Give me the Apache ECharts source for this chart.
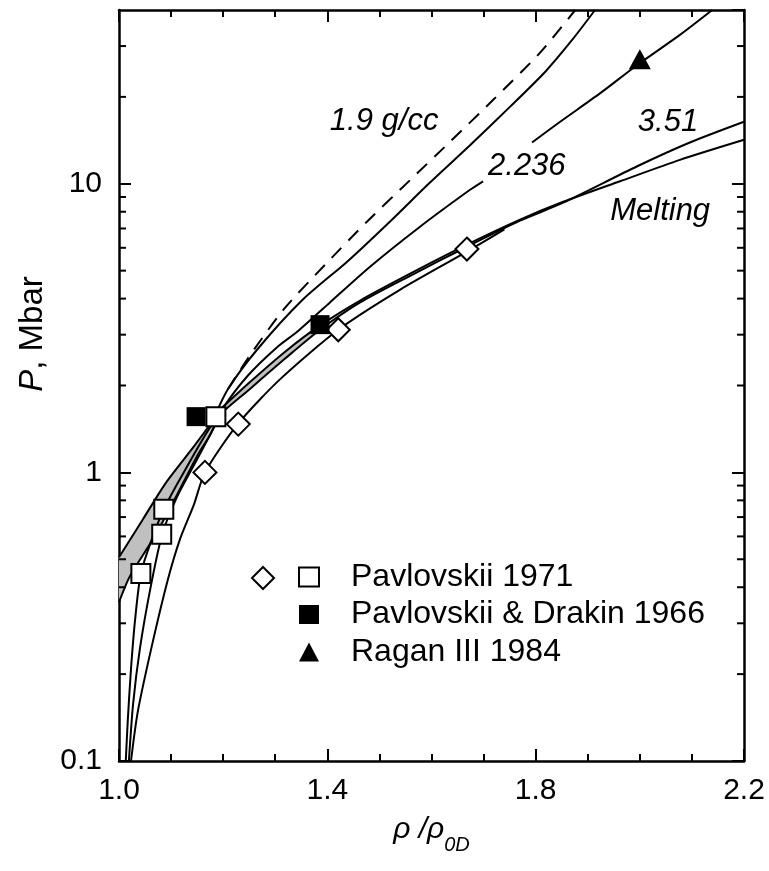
<!DOCTYPE html>
<html><head><meta charset="utf-8">
<script src="https://cdn.jsdelivr.net/npm/echarts@6/dist/echarts.min.js"></script>
<style>html,body{margin:0;padding:0;background:#fff}#c{width:769px;height:871px}</style>
</head><body><div id="c"></div>
<script>
const FONT = '"Liberation Sans", Arial, Helvetica, sans-serif';

// axes
const xMin = 1.0, xMax = 2.2, xStep = 0.4;
const xTickLabels = ['1.0', '1.4', '1.8', '2.2'];
const yMin = 0.1, yMax = 40;
const yTickLabels = ['0.1', '1', '10'];
const yMinorTicks = [0.2, 0.3, 0.4, 0.5, 0.6, 0.7, 0.8, 0.9, 2, 3, 4, 5, 6, 7, 8, 9, 20, 30];

// curves [rho/rho0D, P (Mbar)]
const curve19 = [[1.000,0.508],[1.046,0.688],[1.088,0.909],[1.136,1.18],[1.175,1.47],[1.209,1.94],[1.265,2.66],[1.353,3.97],[1.438,5.37],[1.520,7.39],[1.597,10.1],[1.674,13.6],[1.751,18.5],[1.818,24.4],[1.870,31.5],[1.914,40]];
const curve19Dashed = [[1.209,1.94],[1.255,2.60],[1.319,3.72],[1.396,5.25],[1.476,7.39],[1.559,10.3],[1.636,14.0],[1.718,19.5],[1.808,28.4],[1.876,40]];
const curve2236Low = [[1.000,0.355],[1.021,0.437],[1.065,0.586],[1.102,0.775],[1.150,1.14],[1.175,1.35],[1.198,1.65],[1.248,2.17],[1.303,2.71],[1.342,3.07],[1.405,3.88],[1.482,5.16],[1.578,7.10],[1.674,9.53],[1.699,10.2]];
const curve2236High = [[1.793,13.9],[1.847,16.4],[1.924,20.6],[1.995,25.8],[2.077,32.8],[2.139,40]];
const curve351 = [[1.013,0.1],[1.017,0.140],[1.023,0.208],[1.031,0.310],[1.042,0.447],[1.063,0.586],[1.086,0.745],[1.127,1.02],[1.186,1.53],[1.252,1.95],[1.319,2.48],[1.386,3.12],[1.463,3.88],[1.559,4.80],[1.668,6.05],[1.770,7.45],[1.853,8.60],[1.995,11.5],[2.096,13.9],[2.200,16.4]];
const curve351b = [[1.019,0.1],[1.027,0.157],[1.040,0.244],[1.060,0.394],[1.083,0.610],[1.111,0.819],[1.150,1.11],[1.186,1.47]];
const curveDiamondData = [[1.023,0.1],[1.036,0.148],[1.063,0.250],[1.094,0.426],[1.117,0.586],[1.144,0.775],[1.165,1.0],[1.228,1.47],[1.309,2.10],[1.421,3.12],[1.540,4.30],[1.668,5.82],[1.740,6.95]];
const curveMelting = [[1.186,1.60],[1.252,2.06],[1.319,2.62],[1.386,3.23],[1.463,3.94],[1.559,4.88],[1.668,6.15],[1.770,7.51],[1.853,8.66],[1.962,10.2],[2.077,12.1],[2.200,14.2]];

// experimental points
const pavlovskii1971Squares = [[1.042,0.446],[1.082,0.610],[1.086,0.745],[1.186,1.56]];
const pavlovskii1971Diamonds = [[1.165,1.0],[1.229,1.47],[1.421,3.12],[1.668,5.94]];
const pavlovskiiDrakin1966 = [[1.148,1.56],[1.386,3.25]];
const ragan1984 = [[2.0,27]];

// curve annotations
const labelTexts = ['1.9 g/cc', '2.236', '3.51', 'Melting'];
const labelX = [1.509, 1.783, 2.054, 2.039];
const labelY = [16.4, 11.5, 16.3, 8.0];

// gray band derived from the curves
const bandUpper = curve19.filter(p => p[0] <= 1.175).concat(curveMelting.filter(p => p[0] <= 1.386));
const bandLower = curve2236Low.filter(p => p[0] <= 1.175).concat(curve351.filter(p => p[0] >= 1.186 && p[0] <= 1.386));

const BLACK = '#000';
function lineSeries(name, data, extra) {
  return Object.assign({
    type: 'line', name: name, data: data, symbol: 'none', showSymbol: false,
    smooth: 0.25, silent: true, z: 3,
    lineStyle: { color: BLACK, width: 2 }
  }, extra || {});
}

const axisLineStyle = { onZero: false, lineStyle: { color: BLACK, width: 2.5 } };
const tickStyle = { inside: true, length: 12, lineStyle: { color: BLACK, width: 2 } };

const chart = echarts.init(document.getElementById('c'), null, { renderer: 'canvas' });
chart.setOption({
  animation: false,
  backgroundColor: '#fff',
  textStyle: { fontFamily: FONT, color: BLACK },
  grid: { left: 119, right: 25, top: 10, bottom: 110, containLabel: false, outerBoundsMode: 'none' },
  legend: [
    {
      data: ['Pavlovskii 1971', 'Pavlovskii & Drakin 1966', 'Ragan III 1984'],
      orient: 'vertical', left: 298, top: 561, itemWidth: 20, itemHeight: 19, itemGap: 5.5,
      padding: 0, selectedMode: false,
      textStyle: { fontSize: 32, lineHeight: 32, fontFamily: FONT, color: BLACK, padding: [0, 0, 0, 27] }
    },
    {
      data: ['Pavlovskii 1971 diamonds'], left: 251, top: 566, itemWidth: 22, itemHeight: 22,
      padding: 0, selectedMode: false, formatter: function () { return ''; }
    }
  ],
  xAxis: [
    {
      type: 'value', min: xMin, max: xMax, interval: xStep, position: 'bottom',
      axisLine: axisLineStyle, axisTick: tickStyle,
      minorTick: { show: true, splitNumber: 4, length: 7, lineStyle: { color: BLACK, width: 2 } },
      splitLine: { show: false }, minorSplitLine: { show: false },
      axisLabel: {
        fontSize: 30, color: BLACK, fontFamily: FONT, margin: 15,
        formatter: function (v) { return xTickLabels[Math.round((v - xMin) / xStep)]; }
      },
      name: '{i|ρ /ρ}{sub|0D}', nameLocation: 'middle', nameGap: 54, nameMoveOverlap: false,
      nameTextStyle: {
        rich: {
          i: { fontSize: 30, fontStyle: 'italic', fontFamily: FONT, color: BLACK, lineHeight: 30 },
          sub: { fontSize: 20, fontStyle: 'italic', fontFamily: FONT, color: BLACK, lineHeight: 20, padding: [30, 0, 0, 0] }
        }
      }
    },
    {
      type: 'value', min: xMin, max: xMax, interval: xStep, position: 'top',
      axisLine: axisLineStyle, axisTick: tickStyle,
      minorTick: { show: true, splitNumber: 4, length: 7, lineStyle: { color: BLACK, width: 2 } },
      splitLine: { show: false }, axisLabel: { show: false }
    }
  ],
  yAxis: [
    {
      type: 'log', logBase: 10, min: yMin, max: yMax, interval: 1, position: 'left',
      axisLine: axisLineStyle, axisTick: tickStyle, minorTick: { show: false },
      splitLine: { show: false },
      axisLabel: {
        fontSize: 30, color: BLACK, fontFamily: FONT, margin: 17, showMaxLabel: false,
        formatter: function (v) { const e = Math.round(Math.log10(v)) + 1; return yTickLabels[e] || ''; }
      },
      name: '{i|P}{n|, Mbar}', nameLocation: 'middle', nameGap: 70, nameRotate: 90, nameMoveOverlap: false,
      nameTextStyle: {
        padding: [0, 0, 0, 103],
        rich: {
          i: { fontSize: 33, fontStyle: 'italic', fontFamily: FONT, color: BLACK },
          n: { fontSize: 33, fontFamily: FONT, color: BLACK }
        }
      }
    },
    {
      type: 'log', logBase: 10, min: yMin, max: yMax, interval: 1, position: 'right',
      axisLine: axisLineStyle, axisTick: tickStyle, minorTick: { show: false },
      splitLine: { show: false }, axisLabel: { show: false }
    }
  ],
  series: [
    {
      type: 'custom', name: 'band', silent: true, z: 1, data: [[1.0, 1.0]],
      renderItem: function (params, api) {
        const pts = bandUpper.map(p => api.coord(p)).concat(bandLower.slice().reverse().map(p => api.coord(p)));
        return { type: 'polygon', shape: { points: pts }, style: { fill: '#c0c0c0', stroke: null } };
      }
    },
    lineSeries('1.9', curve19),
    lineSeries('1.9 dashed', curve19Dashed, { lineStyle: { color: BLACK, width: 2, type: [14, 10] } }),
    lineSeries('2.236 a', curve2236Low),
    lineSeries('2.236 b', curve2236High),
    lineSeries('3.51', curve351),
    lineSeries('3.51 b', curve351b),
    lineSeries('diamond line', curveDiamondData),
    lineSeries('Melting', curveMelting),
    {
      type: 'custom', name: 'minor y ticks', silent: true, z: 6,
      data: yMinorTicks.map(v => [xMin, v]),
      renderItem: function (params, api) {
        const v = api.value(1);
        const l = api.coord([xMin, v]), r = api.coord([xMax, v]);
        return { type: 'group', children: [
          { type: 'line', shape: { x1: l[0], y1: l[1], x2: l[0] + 7, y2: l[1] }, style: { stroke: BLACK, lineWidth: 2 } },
          { type: 'line', shape: { x1: r[0] - 7, y1: r[1], x2: r[0], y2: r[1] }, style: { stroke: BLACK, lineWidth: 2 } }
        ] };
      }
    },
    {
      type: 'custom', name: 'annotations', silent: true, z: 7,
      data: labelTexts.map((t, i) => [labelX[i], labelY[i]]),
      renderItem: function (params, api) {
        const p = api.coord([api.value(0), api.value(1)]);
        return { type: 'text', x: p[0], y: p[1], style: {
          text: labelTexts[params.dataIndex], fontSize: 31, fontStyle: 'italic', fontFamily: FONT,
          fill: BLACK, align: 'center', verticalAlign: 'middle'
        } };
      }
    },
    {
      type: 'scatter', name: 'Pavlovskii 1971 diamonds', data: pavlovskii1971Diamonds, symbol: 'diamond', symbolSize: 23, z: 8,
      itemStyle: { color: '#fff', borderColor: BLACK, borderWidth: 2, opacity: 1 }
    },
    {
      type: 'scatter', name: 'Pavlovskii 1971', data: pavlovskii1971Squares, symbol: 'rect', symbolSize: 19, z: 8,
      itemStyle: { color: '#fff', borderColor: BLACK, borderWidth: 2, opacity: 1 }
    },
    {
      type: 'scatter', name: 'Pavlovskii & Drakin 1966', data: pavlovskiiDrakin1966, symbol: 'rect', symbolSize: 19, z: 8,
      itemStyle: { color: BLACK, opacity: 1 }
    },
    {
      type: 'scatter', name: 'Ragan III 1984', data: ragan1984, symbol: 'triangle', symbolSize: [22, 20], z: 8,
      itemStyle: { color: BLACK, opacity: 1 }
    }
  ]
});
</script>
</body></html>
